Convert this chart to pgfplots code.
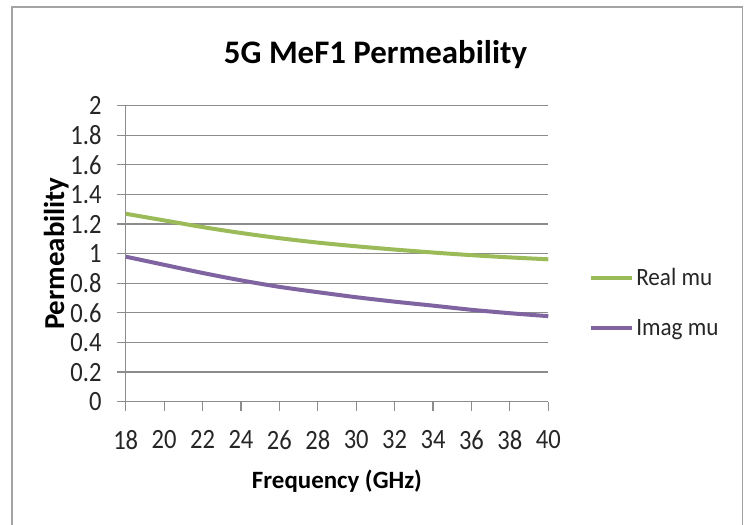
\documentclass[border=0pt]{standalone}
\usepackage{pgfplots}
\pgfplotsset{compat=1.18}
\usepackage{fontspec}
\setmainfont{Carlito}
\newfontfamily\tickfont{Carlito}[FakeStretch=0.88]
\newfontfamily\legfont{Carlito}[FakeStretch=0.93]

\definecolor{realmu}{HTML}{9BBB59}
\definecolor{imagmu}{HTML}{8064A2}
\definecolor{gridgray}{HTML}{8C8C8C}
\definecolor{txt}{HTML}{262626}

\pgfplotstableread{
f    real   imag
18   1.270  0.980
20   1.225  0.925
22   1.180  0.870
24   1.140  0.820
26   1.105  0.776
28   1.075  0.740
30   1.050  0.706
32   1.028  0.676
34   1.008  0.649
36   0.990  0.621
38   0.975  0.598
40   0.962  0.578
}\permdata

\begin{document}
\begin{tikzpicture}
\useasboundingbox (0,0) rectangle (747bp,525bp);
\draw[gridgray!80, line width=1.2bp] (12bp,-10bp) -- (12bp,518bp) -- (742.5bp,518bp) -- (742.5bp,-10bp);
\node[font=\fontsize{33}{38}\selectfont\bfseries, anchor=base, text=black] at (375.5bp,461.7bp) {5G MeF1 Permeability};
\begin{axis}[
    at={(125.7bp,123.3bp)}, anchor=south west,
    scale only axis, width=422.6bp, height=296bp,
    xmin=18, xmax=40, ymin=0, ymax=2,
    xtick={18,20,...,40}, ytick={0,0.2,...,2.01},
    axis lines*=left,
    axis line style={gridgray, line width=1.2bp},
    tick style={gridgray, line width=1.2bp},
    tick align=outside, major tick length=9bp,
    ymajorgrids, grid style={gridgray, line width=1.2bp},
    ticklabel style={font=\tickfont\fontsize{28}{31}\selectfont, text=txt, inner sep=0pt},
    xticklabel style={anchor=north, yshift=-19.5bp},
    yticklabel style={anchor=east, xshift=-15bp},
    /pgf/number format/assume math mode=true,
    xlabel={Frequency (GHz)},
    ylabel={Permeability},
    xlabel style={font=\fontsize{25}{28}\selectfont\bfseries, text=black,
        at={(axis description cs:0.5,0)}, anchor=base, yshift=-86.3bp},
    ylabel style={font=\fontsize{29}{32}\selectfont\bfseries, text=black,
        at={(axis description cs:-0.146,0.5)}, anchor=base},
    legend style={draw=none, fill=none, font=\legfont\fontsize{25}{28}\selectfont,
        at={(1.0965,0.335)}, anchor=west, row sep=28bp, text=txt, inner sep=0pt},
    legend cell align=left,
    legend image code/.code={\draw[#1] (0bp,0bp) -- (41bp,0bp);},
]
\addplot[realmu, line width=4bp, smooth] table[x=f, y=real] {\permdata};
\addlegendentry{Real mu}
\addplot[imagmu, line width=4bp, smooth] table[x=f, y=imag] {\permdata};
\addlegendentry{Imag mu}
\end{axis}
\end{tikzpicture}
\end{document}
